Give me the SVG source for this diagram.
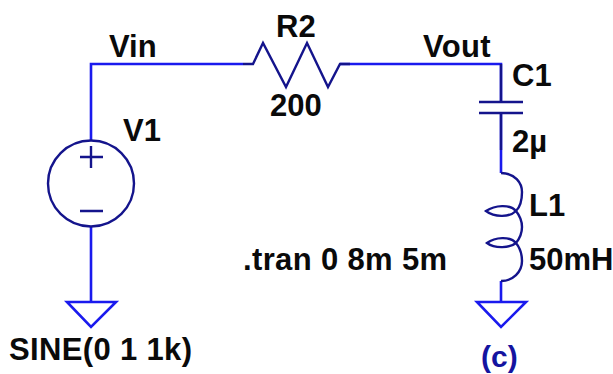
<svg xmlns="http://www.w3.org/2000/svg" width="613" height="374" viewBox="0 0 613 374">
<style>
.w{fill:none;stroke:#1a1aee;stroke-width:2.6;stroke-linejoin:miter}
.c{fill:none;stroke:#14148c;stroke-width:2.4;stroke-linejoin:miter}
.t{font-family:"Liberation Sans",Arial,sans-serif;font-size:31px;font-weight:bold;fill:#0a0a0a}
.s{letter-spacing:.35px}
.b{fill:#1414a0;font-size:30px}
</style>
<rect width="613" height="374" fill="#fff"/>
<g id="connectors">
<path class="w" d="M243 64H91V140"/>
<path class="w" d="M340 64H501V102"/>
<path class="w" d="M501 113V173"/>
<path class="w" d="M91 227V302"/>
<path class="w" d="M501 281V302"/>
</g>
<g id="R2">
<path class="c" d="M243 64H253L263 43L286 87L307 43L328 87L340 64H350"/>
<text class="t" x="276" y="37">R2</text>
<text class="t" x="270" y="116">200</text>
</g>
<g id="V1">
<circle class="c" cx="91" cy="183.500" r="43"/>
<path class="c" d="M80 157H103M91 146V168M80 211H103"/>
<text class="t" x="123" y="141">V1</text>
<text class="t s" x="9" y="360">SINE(0 1 1k)</text>
</g>
<g id="C1">
<path class="c" d="M501 64V102M479 102H523M479 113H523M501 113V150"/>
<text class="t" x="512" y="86">C1</text>
<text class="t" x="512" y="152">2µ</text>
</g>
<g id="L1">
<path class="c" stroke-width="2" d="M501 173C515 173 522 183 522 192C522 200 520 207 516 211C510 217 495 218 486 211C495 205 510 204 516 211C520 216 522 221 522 227C522 233 520 238 516 243C510 248 495 249 487 243C495 237 510 236 516 243C520 248 522 255 522 261C522 272 513 281 501 281"/>
<text class="t" x="529" y="216">L1</text>
<text class="t" x="529" y="270">50mH</text>
</g>
<g id="gnd1"><path class="w" d="M67 302H116L91 327Z"/></g>
<g id="gnd2"><path class="w" d="M477 302H526L501 327Z"/></g>
<g id="labels">
<text class="t" x="109" y="57">Vin</text>
<text class="t s" x="423" y="57">Vout</text>
<text class="t s" x="243" y="270">.tran 0 8m 5m</text>
<text class="t b" x="481" y="367">(c)</text>
</g>
</svg>
